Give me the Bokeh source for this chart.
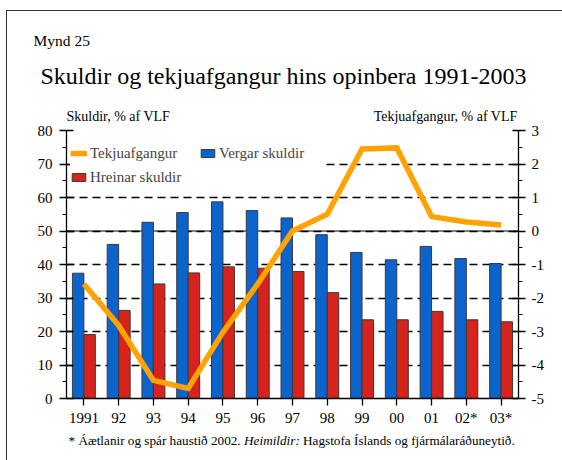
from bokeh.plotting import figure
from bokeh.layouts import column
from bokeh.models import (Range1d, LinearAxis, SingleIntervalTicker, Span, Label, Title,
                          Legend, LegendItem, ColumnDataSource, CustomJSTickFormatter)
from bokeh.transform import dodge
from bokeh.embed import file_html
from bokeh.resources import INLINE

years = ["1991", "92", "93", "94", "95", "96", "97", "98", "99", "00", "01", "02*", "03*"]
vergar = [37.4, 46.0, 52.6, 55.5, 58.7, 56.1, 53.9, 48.9, 43.6, 41.4, 45.4, 41.8, 40.3]
hreinar = [19.1, 26.3, 34.2, 37.5, 39.3, 38.9, 37.9, 31.6, 23.5, 23.5, 26.0, 23.5, 22.9]
tekjuafgangur = [-1.58, -2.82, -4.46, -4.70, -3.02, -1.58, 0.0, 0.5, 2.45, 2.48, 0.43, 0.27, 0.18]

FONT = "'Liberation Serif', 'Times New Roman', serif"
W, H = 562, 460
TOP_H = 124          # header strip height
BOT_H = 30           # footnote strip height
FL, FR, FT, FB = 66, 518, 130, 398  # frame edges on the page
MAIN_H = H - TOP_H - BOT_H
HEAD_FT = 95         # frame top inside the header strip
BASE_SHIFT = 5       # labels render a little lower than their nominal baseline


def strip(height, border_top):
    f = figure(width=W, height=height, x_range=Range1d(0, 1), y_range=Range1d(0, 1),
               x_axis_type=None, y_axis_type=None,
               output_backend="svg", toolbar_location=None,
               min_border_left=FL, min_border_right=W - FR,
               min_border_top=border_top, min_border_bottom=0)
    f.grid.visible = False
    f.outline_line_color = None
    f.background_fill_alpha = 0.0
    f.border_fill_alpha = 0.0
    return f


def lab(f, txt, px, py, y_bottom, size, align="left", style="normal"):
    # px, py: page coordinates of the text anchor; y_bottom: page y of the frame bottom
    f.add_layout(Label(x=px - FL, y=y_bottom - (py - BASE_SHIFT), x_units="screen",
                       y_units="screen", text=txt, text_font=FONT, text_font_size=size,
                       text_align=align, text_baseline="alphabetic",
                       text_font_style=style, text_color="black"))

# ---------- header ----------
top = strip(TOP_H, HEAD_FT)
top.add_layout(Title(text="Skuldir og tekjuafgangur hins opinbera 1991-2003",
                     text_font=FONT, text_font_size="24px", text_font_style="normal",
                     align="left", offset=40 - FL, standoff=14,
                     vertical_align="bottom", text_color="black"), "above")
top.add_layout(Title(text="Mynd 25", text_font=FONT, text_font_size="15.5px",
                     text_font_style="normal", align="left", offset=33 - FL, standoff=10,
                     vertical_align="bottom", text_color="black"), "above")
lab(top, "Skuldir, % af VLF", 66, 121, TOP_H, "14px")
lab(top, "Tekjuafgangur, % af VLF", 517, 121, TOP_H, "14px", align="right")

# ---------- main chart ----------
src = ColumnDataSource(dict(year=years, vergar=vergar, hreinar=hreinar, tek=tekjuafgangur))

p = figure(x_range=years, y_range=Range1d(0, 80), width=W, height=MAIN_H,
           output_backend="svg", toolbar_location=None,
           min_border_left=FL, min_border_right=W - FR, min_border_top=FT - TOP_H,
           min_border_bottom=(TOP_H + MAIN_H) - FB)
p.extra_y_ranges = {"right": Range1d(-5, 3)}
p.outline_line_color = None
p.background_fill_color = "white"
p.border_fill_alpha = 0.0

p.xgrid.grid_line_color = None
p.ygrid.ticker = SingleIntervalTicker(interval=10)
p.ygrid.grid_line_color = "black"
p.ygrid.grid_line_dash = "8 5"
p.ygrid.grid_line_width = 1.4

zero = Span(location=0, dimension="width", y_range_name="right",
            line_color="black", line_width=1.2, level="underlay")
p.add_layout(zero)

blue = p.vbar(x=dodge("year", -0.165, range=p.x_range), top="vergar", width=0.33,
              source=src, fill_color="#0A64CC", line_color="#3A3A3A", line_width=1)
red = p.vbar(x=dodge("year", 0.165, range=p.x_range), top="hreinar", width=0.33,
             source=src, fill_color="#D6231C", line_color="#3A3A3A", line_width=1)
line = p.line(x="year", y="tek", source=src, y_range_name="right",
              line_color="#FFA202", line_width=5.5, line_join="miter")


def style_axis(ax):
    ax.axis_line_color = "black"
    ax.axis_line_width = 1.3
    ax.major_tick_line_color = "black"
    ax.major_tick_line_width = 1.3
    ax.minor_tick_line_color = "black"
    ax.minor_tick_line_width = 1.2
    ax.major_label_text_font = FONT
    ax.major_label_text_font_size = "15px"
    ax.major_label_text_color = "black"


la = p.yaxis[0]
la.ticker = SingleIntervalTicker(interval=10, num_minor_ticks=2)
la.major_tick_in = 7
la.major_tick_out = 7
la.minor_tick_in = 0
la.minor_tick_out = 4
la.major_label_standoff = 7
style_axis(la)

ra = LinearAxis(y_range_name="right", ticker=SingleIntervalTicker(interval=1, num_minor_ticks=2))
ra.formatter = CustomJSTickFormatter(code="return tick.toFixed(0);")
ra.major_tick_in = 6
ra.major_tick_out = 7
ra.minor_tick_in = 0
ra.minor_tick_out = 4
ra.major_label_standoff = 6
style_axis(ra)
p.add_layout(ra, "right")

xa = p.xaxis[0]
xa.major_tick_in = 0
xa.major_tick_out = 7
xa.major_label_standoff = 4
style_axis(xa)

legend = Legend(items=[LegendItem(label="Tekjuafgangur", renderers=[line]),
                       LegendItem(label="Vergar skuldir", renderers=[blue]),
                       LegendItem(label="Hreinar skuldir", renderers=[red])],
                location=(4, 211), orientation="horizontal", nrows=2,
                glyph_width=17, glyph_height=10, label_height=20, label_width=105,
                label_standoff=3, spacing=4, padding=6, margin=0,
                label_text_font=FONT, label_text_font_size="15px",
                background_fill_color="white", background_fill_alpha=1.0,
                border_line_color=None)
p.add_layout(legend, "center")

# ---------- footnote ----------
bot = strip(BOT_H, 0)
lab(bot, "* Áætlanir og spár haustið 2002. ", 68, 445, H, "13.2px")
lab(bot, "Heimildir:", 243.6, 445, H, "13.2px", style="italic")
lab(bot, "Hagstofa Íslands og fjármálaráðuneytið.", 302.6, 445, H, "13.2px")

page = column(top, p, bot, spacing=0)
page.styles = {
    "background": "linear-gradient(#333, #333) 6px 10px / 1px 500px no-repeat, "
                  "linear-gradient(#333, #333) 6px 10px / 600px 1px no-repeat, white"
}

open("out.html", "w").write(file_html(page, INLINE))
